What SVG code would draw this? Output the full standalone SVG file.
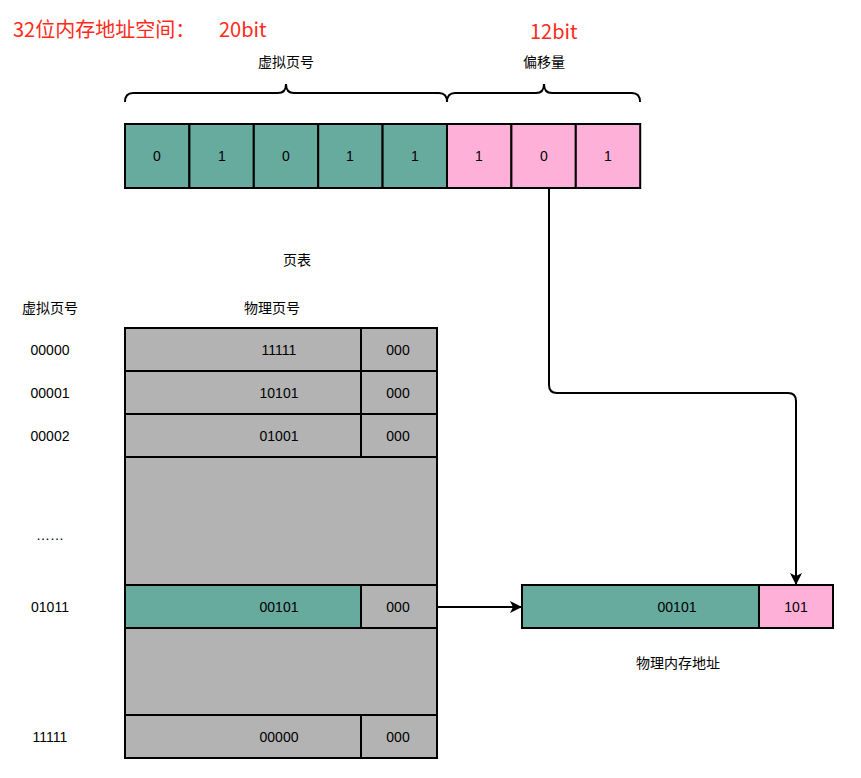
<svg xmlns="http://www.w3.org/2000/svg" width="861" height="778" viewBox="0 0 861 778">
<defs>
<style>
.t{font-family:"Liberation Sans","Noto Sans CJK SC",sans-serif;font-size:14px;fill:#000;text-anchor:middle;dominant-baseline:central}
.c{font-family:"Noto Sans CJK SC","Liberation Sans",sans-serif;font-size:14px;fill:#000;text-anchor:middle;dominant-baseline:central}
.r{font-family:"Noto Sans CJK SC","Liberation Sans",sans-serif;font-size:20px;fill:#FF2A1A;dominant-baseline:central}
.teal{fill:#67AB9F;stroke:#000;stroke-width:2}
.pink{fill:#FFB0D8;stroke:#000;stroke-width:2}
.gray{fill:#B3B3B3;stroke:#000;stroke-width:2}
.ln{fill:none;stroke:#000;stroke-width:2}
</style>
<marker id="arr" viewBox="0 0 12 12" refX="11" refY="6" markerWidth="12" markerHeight="12" markerUnits="userSpaceOnUse" orient="auto">
<path d="M0,0 L12,6 L0,12 L3,6 Z" fill="#000"/>
</marker>
</defs>
<rect width="861" height="778" fill="#fff"/>
<g id="title">
<text class="r" x="13" y="28">32位内存地址空间：</text>
<text class="r" x="219" y="28">20bit</text>
<text class="r" x="530" y="30">12bit</text>
</g>
<g id="braces">
<text class="c" x="286" y="61">虚拟页号</text>
<text class="c" x="544" y="61">偏移量</text>
<path class="ln" d="M125,102 Q125,93 133,93 L278,93 Q286,93 286,84 Q286,93 294,93 L439,93 Q447,93 447,102"/>
<path class="ln" d="M447,102 Q447,93 455,93 L536,93 Q544,93 544,84 Q544,93 552,93 L632,93 Q640,93 640,102"/>
</g>
<g id="virtual-address">
<rect class="teal" x="125" y="124" width="64.4" height="64"/><text class="t" x="157" y="156">0</text>
<rect class="teal" x="189.4" y="124" width="64.4" height="64"/><text class="t" x="222" y="156">1</text>
<rect class="teal" x="253.8" y="124" width="64.4" height="64"/><text class="t" x="286" y="156">0</text>
<rect class="teal" x="318.2" y="124" width="64.4" height="64"/><text class="t" x="350" y="156">1</text>
<rect class="teal" x="382.6" y="124" width="64.4" height="64"/><text class="t" x="415" y="156">1</text>
<rect class="pink" x="447" y="124" width="64.4" height="64"/><text class="t" x="479" y="156">1</text>
<rect class="pink" x="511.4" y="124" width="64.4" height="64"/><text class="t" x="544" y="156">0</text>
<rect class="pink" x="575.8" y="124" width="64.4" height="64"/><text class="t" x="608" y="156">1</text>
</g>
<g id="page-table">
<text class="c" x="297" y="259">页表</text>
<text class="c" x="50" y="307">虚拟页号</text>
<text class="c" x="272" y="307">物理页号</text>
<rect class="gray" x="125" y="328" width="312" height="430"/>
<rect class="gray" x="125" y="328" width="236" height="43"/><rect class="gray" x="361" y="328" width="76" height="43"/>
<text class="t" x="279" y="350">11111</text><text class="t" x="398" y="350">000</text>
<rect class="gray" x="125" y="371" width="236" height="43"/><rect class="gray" x="361" y="371" width="76" height="43"/>
<text class="t" x="279" y="393">10101</text><text class="t" x="398" y="393">000</text>
<rect class="gray" x="125" y="414" width="236" height="43"/><rect class="gray" x="361" y="414" width="76" height="43"/>
<text class="t" x="279" y="436">01001</text><text class="t" x="398" y="436">000</text>
<rect class="teal" x="125" y="585" width="236" height="43"/><rect class="gray" x="361" y="585" width="76" height="43"/>
<text class="t" x="279" y="607">00101</text><text class="t" x="398" y="607">000</text>
<rect class="gray" x="125" y="715" width="236" height="43"/><rect class="gray" x="361" y="715" width="76" height="43"/>
<text class="t" x="279" y="737">00000</text><text class="t" x="398" y="737">000</text>
<text class="t" x="50" y="350">00000</text>
<text class="t" x="50" y="393">00001</text>
<text class="t" x="50" y="436">00002</text>
<text class="t" x="50" y="535">……</text>
<text class="t" x="50" y="607">01011</text>
<text class="t" x="50" y="737">11111</text>
</g>
<g id="physical-address">
<rect class="teal" x="522" y="585" width="237" height="43"/>
<rect class="pink" x="759" y="585" width="74" height="43"/>
<text class="t" x="677" y="607">00101</text>
<text class="t" x="796" y="607">101</text>
<text class="c" x="678" y="662">物理内存地址</text>
</g>
<g id="connectors">
<path class="ln" d="M549,188 L549,385 Q549,393 557,393 L788,393 Q796,393 796,401 L796,584" marker-end="url(#arr)"/>
<path class="ln" d="M437,607 L521,607" marker-end="url(#arr)"/>
</g>
</svg>
